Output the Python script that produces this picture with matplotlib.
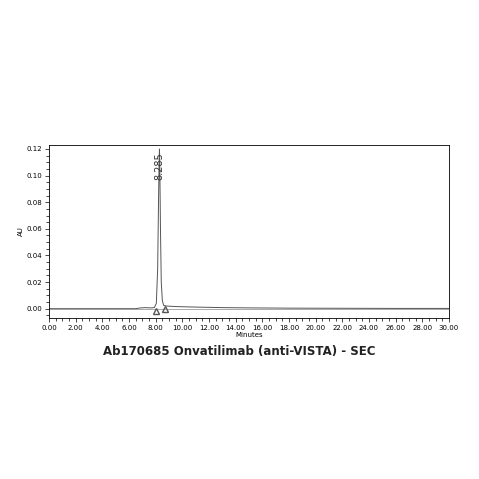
import matplotlib
matplotlib.use("Agg")
import matplotlib.pyplot as plt

minutes = [0.0, 6.5, 6.8, 7.2, 7.6, 7.9, 8.05, 8.15, 8.22, 8.26, 8.285, 8.31, 8.36, 8.42, 8.5, 8.6, 8.8, 9.5, 11, 13, 15, 18, 22, 26, 30]
au = [0.0, 0.0, 0.0005, 0.0008, 0.0006, 0.0008, 0.004, 0.03, 0.085, 0.112, 0.120, 0.108, 0.06, 0.02, 0.006, 0.0025, 0.002, 0.0016, 0.0012, 0.0008, 0.0006, 0.0004, 0.0003, 0.0002, 0.0002]
peak_rt = 8.285
peak_au = 0.120

fig = plt.figure(figsize=(4.79, 4.79), dpi=100)
ax = fig.add_axes([49/479, 1-318/479, 400/479, 173/479])
ax.plot(minutes, au, color="#555555", lw=0.7)
ax.axhline(0, color="#888888", lw=0.5)
ax.plot([8.0, 8.7], [-0.0015, -0.0005], linestyle="none", marker="^", mfc="none", mec="#555555", ms=5)
ax.text(peak_rt, 0.097, "8.285", rotation=90, fontsize=7, ha="center", va="bottom", color="#333333")
ax.set_xlim(0, 30)
ax.set_ylim(-0.007, 0.123)
ax.set_xticks([i*2 for i in range(16)])
ax.set_xticklabels([f"{i*2:.2f}" for i in range(16)], fontsize=5)
ax.set_xticks([i*0.5 for i in range(61)], minor=True)
ax.set_yticks([0, 0.02, 0.04, 0.06, 0.08, 0.10, 0.12])
ax.set_yticklabels(["0.00", "0.02", "0.04", "0.06", "0.08", "0.10", "0.12"], fontsize=5)
ax.set_yticks([i*0.005 for i in range(-1, 25)], minor=True)
ax.tick_params(length=3, width=0.5, pad=2)
ax.tick_params(which="minor", length=2, width=0.5)
ax.set_xlabel("Minutes", fontsize=5, labelpad=1)
ax.set_ylabel("AU", fontsize=5, labelpad=2)
for s in ax.spines.values():
    s.set_linewidth(0.6)
fig.text(0.5, 1-352/479, "Ab170685 Onvatilimab (anti-VISTA) - SEC", ha="center", va="center", fontsize=8.5, fontweight="bold", color="#222222")
fig.savefig("out.png", dpi=100)
